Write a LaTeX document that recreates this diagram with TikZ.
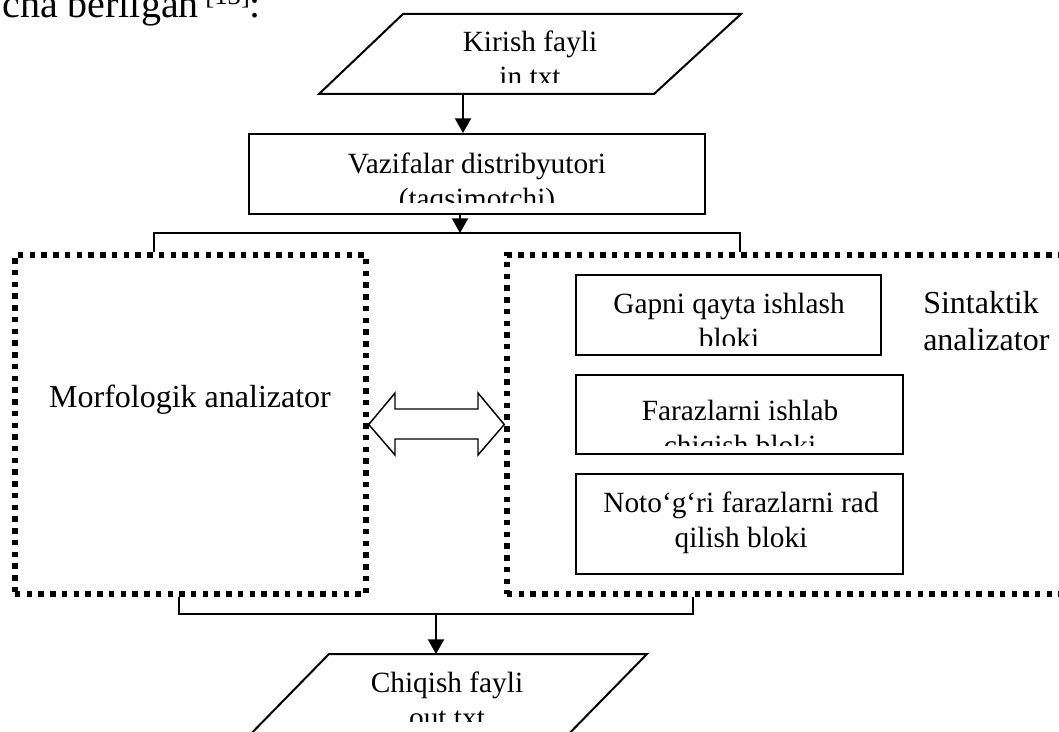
\documentclass[tikz,border=0pt]{standalone}
\usepackage{fontspec}
\setmainfont{Liberation Serif}
\usetikzlibrary{arrows.meta,fit}
% stacked lines whose first baseline is the node's base
\newcommand\boxlines[2][c]{\begin{tabular}[t]{@{}#1@{}}#2\end{tabular}}

\begin{document}
\begin{tikzpicture}[x=0.75pt,y=-0.75pt,
  txt/.style={font=\fontsize{22}{26.25}\selectfont, inner sep=0pt, anchor=base},
  bigtxt/.style={font=\fontsize{24}{27.75}\selectfont, inner sep=0pt, anchor=base},
  blk/.style={draw, line width=1.5pt, inner sep=0pt},
  dotbox/.style={draw, line width=4.1pt, dash pattern=on 4.1pt off 4.7pt, inner sep=0pt},
  link/.style={line width=1.1pt},
  arr/.style={line width=1.5pt, -{Triangle[length=11pt,width=12pt]}},
  dbl/.style={line width=1.1pt, fill=white},
]
\useasboundingbox (0,0) rectangle (1059,731);
\clip (0,0) rectangle (1059,731);

% running text above the scheme
\node[font=\fontsize{30}{36}\selectfont, anchor=base west, inner sep=0pt]
  (intro) at (2,18) {cha berilgan\,\raisebox{10pt}{\fontsize{20}{24}\selectfont[13]}:};

% input file
\draw[blk] (403,14) -- (741,14) -- (654,94) -- (319,94) -- cycle;
\coordinate (inB) at (463,94);
\begin{scope}
  \clip (300,0) rectangle (760,83);
  \node[txt] (inLbl) at (530,52) {\boxlines{Kirish fayli\\in.txt}};
\end{scope}

% task distributor
\node[blk, fit={(249,134) (705,214)}] (dist) {};
\begin{scope}
  \clip (249,134) rectangle (705,202);
  \node[txt] (distLbl) at (477,173) {\boxlines{Vazifalar distribyutori\\(taqsimotchi)}};
\end{scope}
\coordinate (distOut) at (460,214);
\coordinate (split) at (460,233);

% analyzers
\node[dotbox, fit={(15,255) (366,594)}] (morph) {};
\node[dotbox, fit={(507,255) (1085,594)}] (synt) {};
\node[bigtxt] (morphLbl) at (190,407) {Morfologik analizator};
\node[bigtxt, anchor=base west] (syntLbl) at (923,313) {\boxlines[l]{Sintaktik\\analizator}};

% blocks of the syntactic analyzer
\node[blk, fit={(576,275) (881,355)}] (gap) {};
\begin{scope}
  \clip (576,275) rectangle (881,345);
  \node[txt] (gapLbl) at (729,313) {\boxlines{Gapni qayta ishlash\\bloki}};
\end{scope}
\node[blk, fit={(576,375) (903,454)}] (hyp) {};
\begin{scope}
  \clip (576,375) rectangle (903,445);
  \node[txt] (hypLbl) at (740,420) {\boxlines{Farazlarni ishlab\\chiqish bloki}};
\end{scope}
\node[blk, fit={(576,474) (903,574)}] (rej) {};
\node[txt] (rejLbl) at (741,512) {\boxlines{Noto‘g‘ri farazlarni rad\\qilish bloki}};

% output file
\draw[blk] (329,654) -- (647,654) -- (558,745) -- (240,745) -- cycle;
\coordinate (outT) at (436,654);
\begin{scope}
  \clip (250,654) rectangle (660,721);
  \node[txt] (outLbl) at (447,692) {\boxlines{Chiqish fayli\\out.txt}};
\end{scope}

% connectors
\draw[arr] (inB) -- (inB |- dist.north);
\draw[arr] (distOut) -- (split);
\coordinate (brL) at (154,233);
\coordinate (brR) at (740,233);
\draw[link] (brL |- morph.north) -- (brL) -- (brR) -- (brR |- synt.north);
\coordinate (mgL) at (179,614);
\coordinate (mgR) at (693,614);
\coordinate (mgC) at (436,614);
\draw[link] (mgL |- morph.south) -- (mgL) -- (mgR) -- (mgR |- synt.south);
\draw[arr] (mgC) -- (outT);

% two-way exchange between the analyzers
\draw[dbl] (morph.east) -- (395,393) -- (395,409) -- (478,409) -- (478,393)
  -- (synt.west) -- (478,455) -- (478,439) -- (395,439) -- (395,455) -- cycle;
\end{tikzpicture}
\end{document}
